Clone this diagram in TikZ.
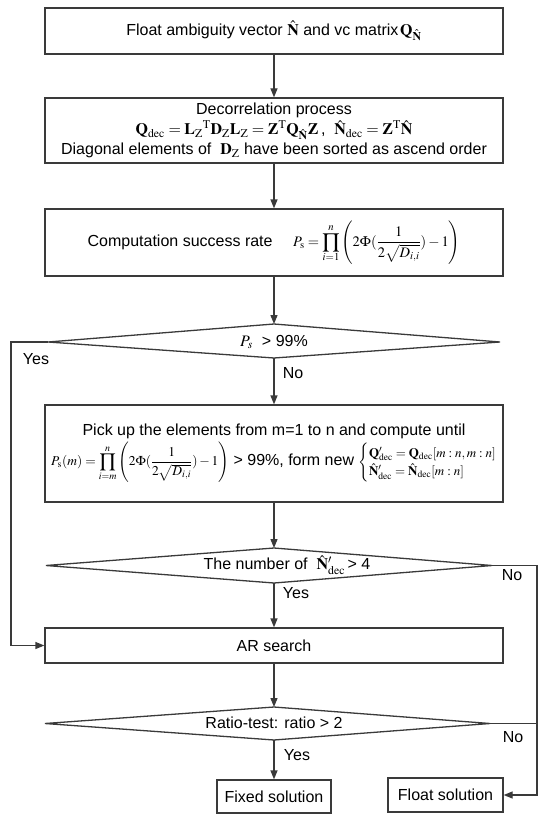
\documentclass[tikz,border=0pt]{standalone}
\usepackage{amsmath}
\usepackage{mathptmx}
\usepackage[no-math]{fontspec}
\setmainfont{Liberation Sans}
\usetikzlibrary{arrows.meta}
\definecolor{lncol}{HTML}{3A3A3A}
\begin{document}
\begin{tikzpicture}[x=1pt,y=-1pt,
  font=\fontsize{16}{20}\selectfont,
  box/.style={draw=lncol,line width=1.3pt,inner sep=0pt,minimum width=458pt,align=center},
  smallbox/.style={draw=lncol,line width=1.3pt,inner sep=0pt,align=center},
  arr/.style={draw=lncol,line width=1.3pt,-{Triangle[length=9pt,width=7pt]}},
  conn/.style={draw=lncol,line width=1.3pt},
  dia/.style={draw=lncol,line width=1.3pt,line join=miter},
  lbl/.style={inner sep=0pt}]
\useasboundingbox (0,0) rectangle (550,821);

% boxes
\node[box,minimum height=46pt] (b1) at (274,31)
  {Float ambiguity vector $\hat{\mathbf{N}}$ and vc matrix$\,\mathbf{Q}_{\hat{\mathbf{N}}}$};
\node[box,minimum height=65pt] (b2) at (274,130.5)
  {Decorrelation process\\
   $\mathbf{Q}_{\mathrm{dec}}=\mathbf{L}_{\mathrm{Z}}{}^{\mathrm{T}}\mathbf{D}_{\mathrm{Z}}\mathbf{L}_{\mathrm{Z}}=\mathbf{Z}^{\mathrm{T}}\mathbf{Q}_{\hat{\mathbf{N}}}\mathbf{Z}$\,,\ \ $\hat{\mathbf{N}}_{\mathrm{dec}}=\mathbf{Z}^{\mathrm{T}}\hat{\mathbf{N}}$\\
   Diagonal elements of \ $\mathbf{D}_{\mathrm{Z}}$ have been sorted as ascend order};
\node[box,minimum height=67pt] (b3) at (274,242.5)
  {Computation success rate \quad {\fontsize{14.5}{17}\selectfont$P_{\mathrm{s}}=\displaystyle\prod_{i=1}^{n}\left(2\Phi(\frac{1}{2\sqrt{D_{i,i}}})-1\right)$}};
\node[box,minimum height=97pt] (b4) at (274,453.5)
  {Pick up the elements from m=1 to n and compute until\\[2pt]
   {\fontsize{13.5}{16}\selectfont$P_{\mathrm{s}}(m)=\displaystyle\prod_{i=m}^{n}\left(2\Phi(\frac{1}{2\sqrt{D_{i,i}}})-1\right)$}
   > 99\%, form new
   {\fontsize{13}{16}\selectfont\renewcommand{\arraystretch}{1.15}$\left\{\begin{array}{@{}l@{}}\mathbf{Q}'_{\mathrm{dec}}=\mathbf{Q}_{\mathrm{dec}}[m:n,m:n]\\ \hat{\mathbf{N}}'_{\mathrm{dec}}=\hat{\mathbf{N}}_{\mathrm{dec}}[m:n]\end{array}\right.$}};
\node[box,minimum height=35pt] (ar) at (274,645.5) {AR search};
\node[smallbox,minimum width=114pt,minimum height=33pt] (fx) at (274,796.5) {Fixed solution};
\node[smallbox,minimum width=115pt,minimum height=34pt] (fl) at (445.5,795) {Float solution};

% diamonds
\coordinate (d1t) at (274,324); \coordinate (d1r) at (500,342);
\coordinate (d1b) at (274,358); \coordinate (d1l) at (48,342);
\draw[dia] (d1t) -- (d1r) -- (d1b) -- (d1l) -- cycle;
\node[lbl] (d1) at (274,342) {$P_{s}$\ \ > 99\%};

\coordinate (d2t) at (274,548); \coordinate (d2r) at (492,565.5);
\coordinate (d2b) at (274,583); \coordinate (d2l) at (46,565.5);
\draw[dia] (d2t) -- (d2r) -- (d2b) -- (d2l) -- cycle;
\node[lbl] (d2) at (287,565) {The number of \ $\hat{\mathbf{N}}'_{\mathrm{dec}}$\,> 4};

\coordinate (d3t) at (274,707); \coordinate (d3r) at (490,723.5);
\coordinate (d3b) at (274,740); \coordinate (d3l) at (45,723.5);
\draw[dia] (d3t) -- (d3r) -- (d3b) -- (d3l) -- cycle;
\node[lbl] (d3) at (274,723) {Ratio-test: ratio > 2};

% corner points
\coordinate (cL) at (11,342);
\coordinate (cR) at (537,565.5);

% connectors
\draw[arr] (b1.south) -- (b2.north);
\draw[arr] (b2.south) -- (b3.north);
\draw[arr] (b3.south) -- (d1t);
\draw[arr] (d1b) -- (b4.north);
\draw[arr] (b4.south) -- (d2t);
\draw[arr] (d2b) -- (ar.north);
\draw[arr] (ar.south) -- (d3t);
\draw[arr] (d3b) -- (fx.north);
\draw[arr] (d1l) -- (cL) |- (ar.west);
\draw[arr] (d2r) -- (cR) |- (fl.east);
\draw[conn] (d3r) -- (cR |- d3r);

% labels
\node[lbl] (yes1) at (36,359) {Yes};
\node[lbl] (no1) at (293,373) {No};
\node[lbl] (no2) at (512,575) {No};
\node[lbl] (yes2) at (296,593) {Yes};
\node[lbl] (no3) at (513,737) {No};
\node[lbl] (yes3) at (297,755) {Yes};
\end{tikzpicture}
\end{document}
